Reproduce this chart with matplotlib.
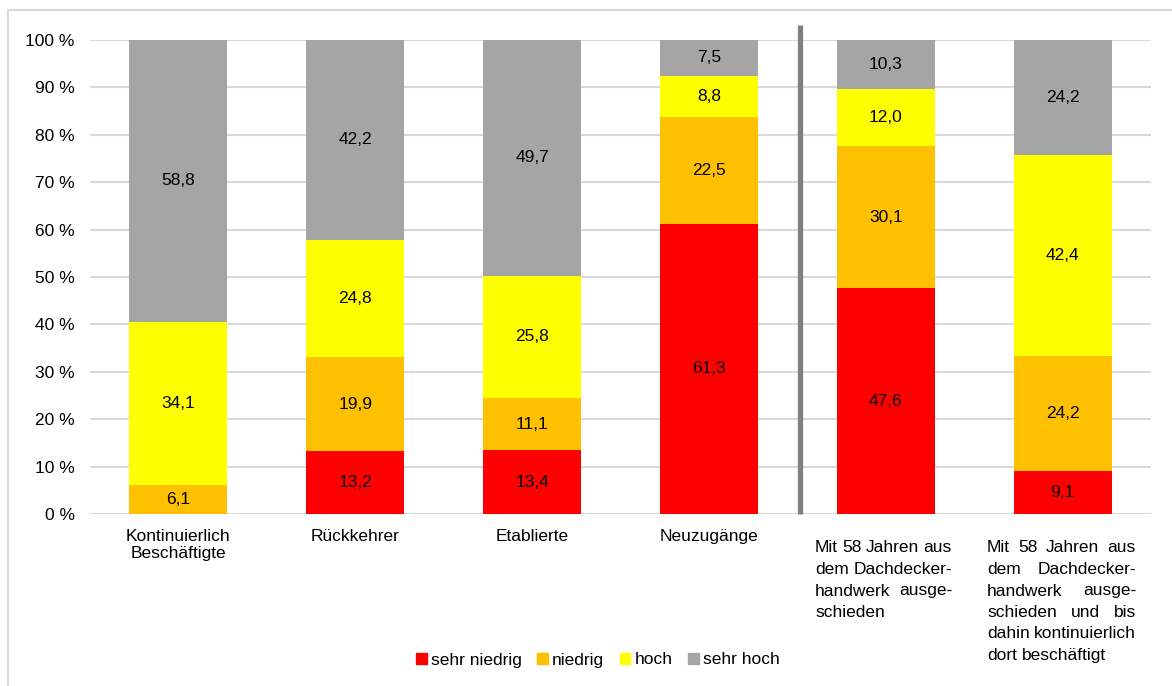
import numpy as np
import matplotlib.pyplot as plt
from matplotlib.lines import Line2D
from matplotlib.patches import Patch
from matplotlib.transforms import IdentityTransform

plt.rcParams["font.family"] = ["Liberation Sans", "DejaVu Sans"]
plt.rcParams["font.size"] = 12.5
FS = 12.5

categories = ["Kontinuierlich\nBeschäftigte", "Rückkehrer", "Etablierte", "Neuzugänge", "", ""]
long_labels = [
    ["Mit 58 Jahren aus", "dem Dachdecker-", "handwerk ausge-", "schieden"],
    ["Mit 58 Jahren aus", "dem Dachdecker-", "handwerk ausge-", "schieden und bis",
     "dahin kontinuierlich", "dort beschäftigt"],
]
series = ["sehr niedrig", "niedrig", "hoch", "sehr hoch"]
sehr_niedrig = [0.0, 13.2, 13.4, 61.3, 47.6, 9.1]
niedrig = [6.1, 19.9, 11.1, 22.5, 30.1, 24.2]
hoch = [34.1, 24.8, 25.8, 8.8, 12.0, 42.4]
sehr_hoch = [58.8, 42.2, 49.7, 7.5, 10.3, 24.2]
colors = ["#FF0000", "#FFC000", "#FFFF00", "#A5A5A5"]

W, H = 1172, 686
fig = plt.figure(figsize=(W / 100, H / 100), dpi=100)
ax = fig.add_axes([90 / W, 1 - 514 / H, (1151 - 90) / W, (514 - 40) / H])

data = np.array([sehr_niedrig, niedrig, hoch, sehr_hoch])
pct = data / data.sum(axis=0) * 100
x = np.arange(len(categories))
bottom = np.zeros(len(categories))
for i in range(4):
    ax.bar(x, pct[i], 0.555, bottom=bottom, color=colors[i], zorder=3)
    for j in range(len(categories)):
        if data[i, j] > 0:
            ax.text(x[j], bottom[j] + pct[i, j] / 2, f"{data[i, j]:.1f}".replace(".", ","),
                    ha="center", va="center", fontsize=FS, zorder=4)
    bottom += pct[i]

ax.set_xlim(-0.5, len(categories) - 0.5)
ax.set_ylim(0, 100)
ax.set_yticks(range(0, 101, 10))
ax.set_yticklabels([f"{v} %" for v in range(0, 101, 10)])
ax.yaxis.grid(True, color="#D9D9D9", linewidth=1.5, zorder=0)
ax.set_xticks(x)
ax.set_xticklabels(categories, linespacing=1.15)
ax.tick_params(length=0)
ax.tick_params(axis="y", pad=11)
ax.tick_params(axis="x", pad=11)
for s in ax.spines.values():
    s.set_visible(False)

# separator
ax.plot([3.515, 3.515], [0, 103.1], color="#808080", linewidth=3.8, clip_on=False,
        solid_capstyle="butt", zorder=5)

# justified labels for the last two bars
r = fig.canvas.get_renderer()


def justify(lines, x0, x1, ytop, dy):
    a = fig.text(0, 0, "a a", fontsize=FS)
    b = fig.text(0, 0, "aa", fontsize=FS)
    sp = a.get_window_extent(r).width - b.get_window_extent(r).width
    a.remove()
    b.remove()
    for i, line in enumerate(lines):
        words = line.split()
        y = H - (ytop + i * dy)
        ts = [fig.text(0, 0, w, fontsize=FS, transform=IdentityTransform(), va="center")
              for w in words]
        ws = [t.get_window_extent(r).width for t in ts]
        if i == len(lines) - 1 or len(words) == 1:
            gap = sp
        else:
            gap = (x1 - x0 - sum(ws)) / (len(words) - 1)
        xx = x0
        for t, w in zip(ts, ws):
            t.set_position((xx, y))
            xx += w + gap


justify(long_labels[0], 815, 952, 548, 21.5)
justify(long_labels[1], 987, 1136, 548, 21.5)

handles = [Patch(color=c) for c in colors]
fig.legend(handles, series, loc="center", bbox_to_anchor=(598 / W, 1 - 660 / H), ncol=4,
           frameon=False, handlelength=0.6, handleheight=0.6, handletextpad=0.25,
           columnspacing=0.9, fontsize=FS)

fig.add_artist(Line2D([8 / W, 8 / W, 1], [0, 1 - 10 / H, 1 - 10 / H],
                      transform=fig.transFigure, color="#D9D9D9", linewidth=1.5))

fig.savefig("out.png", dpi=100)
